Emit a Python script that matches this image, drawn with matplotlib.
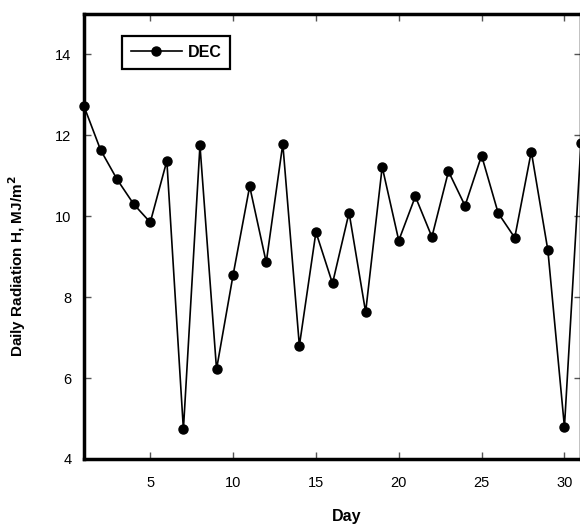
import numpy as np
import matplotlib
matplotlib.use("Agg")
import matplotlib.pyplot as plt

plt.rcParams["font.family"] = ["Liberation Sans", "DejaVu Sans"]

# Daily radiation for December
days = list(range(1, 32))
radiation = [12.72, 11.64, 10.91, 10.30, 9.85, 11.37, 4.73, 11.75, 6.22, 8.55,
             10.74, 8.86, 11.79, 6.80, 9.61, 8.34, 10.09, 7.63, 11.22, 9.40,
             10.49, 9.49, 11.11, 10.26, 11.50, 10.08, 9.47, 11.60, 9.16, 4.79,
             11.81]
x_ticks = [5, 10, 15, 20, 25, 30]
y_ticks = [4, 6, 8, 10, 12, 14]


def main():
    fig = plt.figure(figsize=(5.8, 5.25), dpi=100)
    ax = fig.add_axes([84 / 580, 66 / 525, 497 / 580, 445 / 525])

    ax.plot(days, radiation, "o-", color="black", lw=1.2, ms=6.5,
            label="DEC", clip_on=False, zorder=5)

    ax.set_xlim(1, 31)
    ax.set_ylim(4, 15)
    ax.set_xticks(x_ticks)
    ax.set_yticks(y_ticks)
    ax.tick_params(direction="in", length=5, width=1, color="#555555",
                   top=True, right=True, labelsize=10.5, pad=12)
    ax.tick_params(axis="y", pad=9)
    for sp in ax.spines.values():
        sp.set_linewidth(2.5)

    ax.set_xlabel("Day", fontsize=11.5, fontweight="bold", va="top")
    ax.xaxis.set_label_coords(0.528, -0.112)
    ax.set_ylabel("Daily Radiation H, MJ/m$^\\mathbf{2}$", fontsize=11,
                  fontweight="bold")
    ax.yaxis.set_label_coords(-0.113, 0.434)

    leg = ax.legend(loc="upper left", bbox_to_anchor=(0.0765, 0.9506),
                    borderaxespad=0, fancybox=False, framealpha=1,
                    edgecolor="black", handlelength=3.2, handletextpad=0.35,
                    borderpad=0.55, prop={"weight": "bold", "size": 11.5})
    leg.get_frame().set_linewidth(1.6)

    fig.savefig("out.png", dpi=100)


if __name__ == "__main__":
    main()
